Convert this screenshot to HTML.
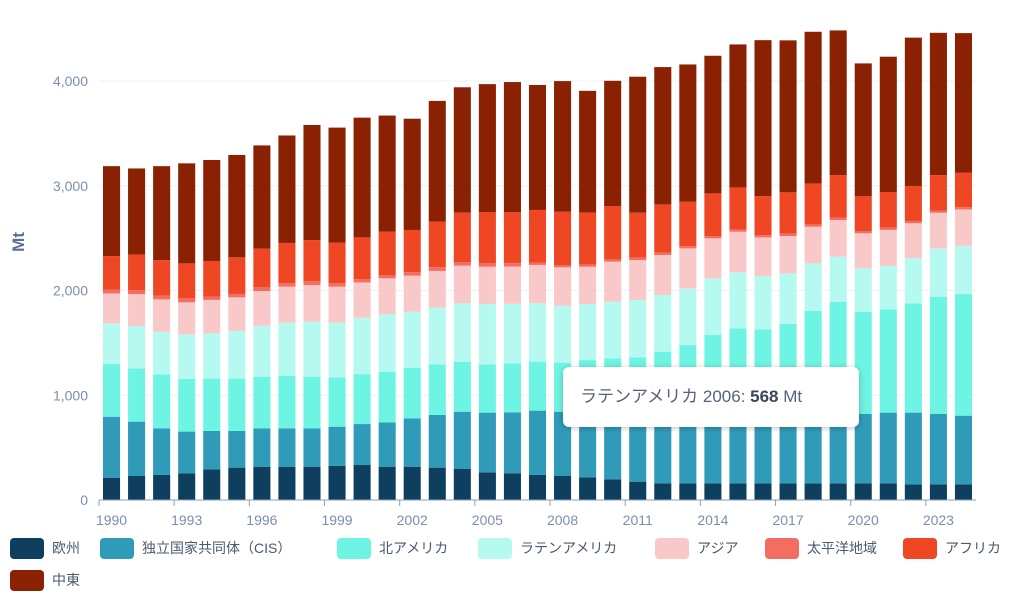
<!DOCTYPE html>
<html><head><meta charset="utf-8">
<style>
html,body{margin:0;padding:0;background:#fff;}
body{width:1024px;height:599px;overflow:hidden;position:relative;font-family:"Liberation Sans","Noto Sans CJK JP",sans-serif;}
svg{position:absolute;left:0;top:0;}
.lg{position:absolute;height:22px;display:flex;align-items:center;font-size:14px;color:#4a5a70;}
.sw{width:34px;height:21px;border-radius:4px;margin-right:8px;}
#tip{position:absolute;left:563px;top:367px;width:296px;height:60px;background:#fff;border-radius:6px;box-shadow:0 1px 6px rgba(0,0,0,0.25);font-size:17px;color:#55627a;line-height:60px;text-indent:17px;white-space:nowrap;}
</style></head><body>
<svg id="chart" width="1024" height="599"></svg>
<div id="legend"></div>
<div id="tip">ラテンアメリカ 2006: <b style="color:#3a4658">568</b> Mt</div>
<script>
const years=[];for(let y=1990;y<=2024;y++)years.push(y);
const seriesNames=["欧州","独立国家共同体（CIS）","北アメリカ","ラテンアメリカ","アジア","太平洋地域","アフリカ","中東"];
const colors=["#0e3f5f","#2f9bb8","#6ef4e2","#b6f9f1","#f9c8c8","#f36d62","#ef4623","#8a2102"];
const europe=[213,229,239,255,293,309,318,318,318,325,334,318,318,309,296,264,255,239,229,216,197,175,159,159,159,159,159,159,159,159,159,159,150,150,150];
const cis=[582,519,445,398,366,350,366,366,366,375,391,423,461,503,547,570,582,614,614,611,630,652,668,668,668,668,668,668,668,668,662,675,684,671,655];
const northAmerica=[503,509,515,503,500,500,493,500,493,471,477,484,484,484,477,461,468,468,468,509,525,535,589,652,748,811,802,853,980,1066,977,986,1044,1120,1161];
const latinAmerica=[388,404,407,426,433,455,487,509,525,522,538,547,535,541,557,576,568,557,544,535,541,547,541,541,541,535,509,484,452,430,414,414,430,461,461];
const asia=[286,305,309,305,318,321,331,344,350,344,337,344,344,350,360,356,356,366,366,356,382,382,382,382,382,388,369,356,350,350,334,344,334,340,347];
const pacific=[38,38,35,38,32,32,35,32,38,32,32,32,32,35,32,32,32,22,22,22,22,22,22,22,22,22,22,22,22,22,22,22,22,22,22];
const africa=[318,340,340,334,340,350,369,385,391,388,398,414,404,436,474,490,487,503,509,496,509,430,461,423,407,401,372,395,391,407,334,340,334,337,328];
const middleEast=[859,821,897,955,964,977,986,1026,1099,1098,1143,1108,1062,1152,1197,1221,1242,1193,1247,1161,1196,1298,1311,1311,1314,1365,1489,1451,1448,1381,1266,1292,1416,1359,1333];
const yTicks=[0,1000,2000,3000,4000];
const yTickLabels=["0","1,000","2,000","3,000","4,000"];
const series=[europe,cis,northAmerica,latinAmerica,asia,pacific,africa,middleEast];
const NS="http://www.w3.org/2000/svg";
const svg=document.getElementById('chart');
const X0=99,X1=976,Y0=500,PPU=0.10475;
const band=(X1-X0)/years.length;
const yS=v=>Y0-v*PPU;
const xS=i=>X0+i*band;
function mk(t,a){const e=document.createElementNS(NS,t);for(const k in a)e.setAttribute(k,a[k]);svg.appendChild(e);return e;}
yTicks.forEach((v,i)=>{
 if(v>0){const g=mk('line',{x1:X0,x2:X1,y1:yS(v),y2:yS(v),stroke:'#eef0f3','stroke-width':1});
 
 }
 const t=mk('text',{x:88,y:yS(v)+5,'text-anchor':'end','font-size':14,fill:'#7a8fae'});
 t.textContent=yTickLabels[i];
 
 
});
const yt=mk('text',{x:0,y:0,transform:'translate(24,242) rotate(-90)','text-anchor':'middle','font-size':17,'font-weight':'bold',fill:'#5a6f92'});
yt.textContent='Mt';


years.forEach((yr,i)=>{
 let cum=0;
 series.forEach((s,k)=>{
  const v=s[i];
  const r=mk('rect',{x:xS(i)+4,width:band-8,y:yS(cum+v),height:v*PPU,fill:colors[k]});
  
  
  cum+=v;
 });
 if(i%3===0){
  const tk=mk('line',{x1:xS(i),x2:xS(i),y1:Y0,y2:Y0+6,stroke:'#8aa0c0'});
  
  
  const t=mk('text',{x:xS(i)+band/2,y:Y0+25,'text-anchor':'middle','font-size':14,fill:'#7a8fae'});
  t.textContent=yr;
  
  
 }
});
const ax=mk('line',{x1:X0,x2:X1,y1:Y0,y2:Y0,stroke:'#8aa0c0','stroke-width':1});


const lx=[10,100,337,478,655,765,903,10],ly=[537,537,537,537,537,537,537,569];
const lg=document.getElementById('legend');
seriesNames.forEach((n,k)=>{
 const d=document.createElement('div');d.className='lg';
 d.style.left=lx[k]+'px';d.style.top=ly[k]+'px';
 d.innerHTML='<div class="sw" style="background:'+colors[k]+'"></div><span>'+n+'</span>';
 
 
 lg.appendChild(d);
});
</script>
</body></html>
